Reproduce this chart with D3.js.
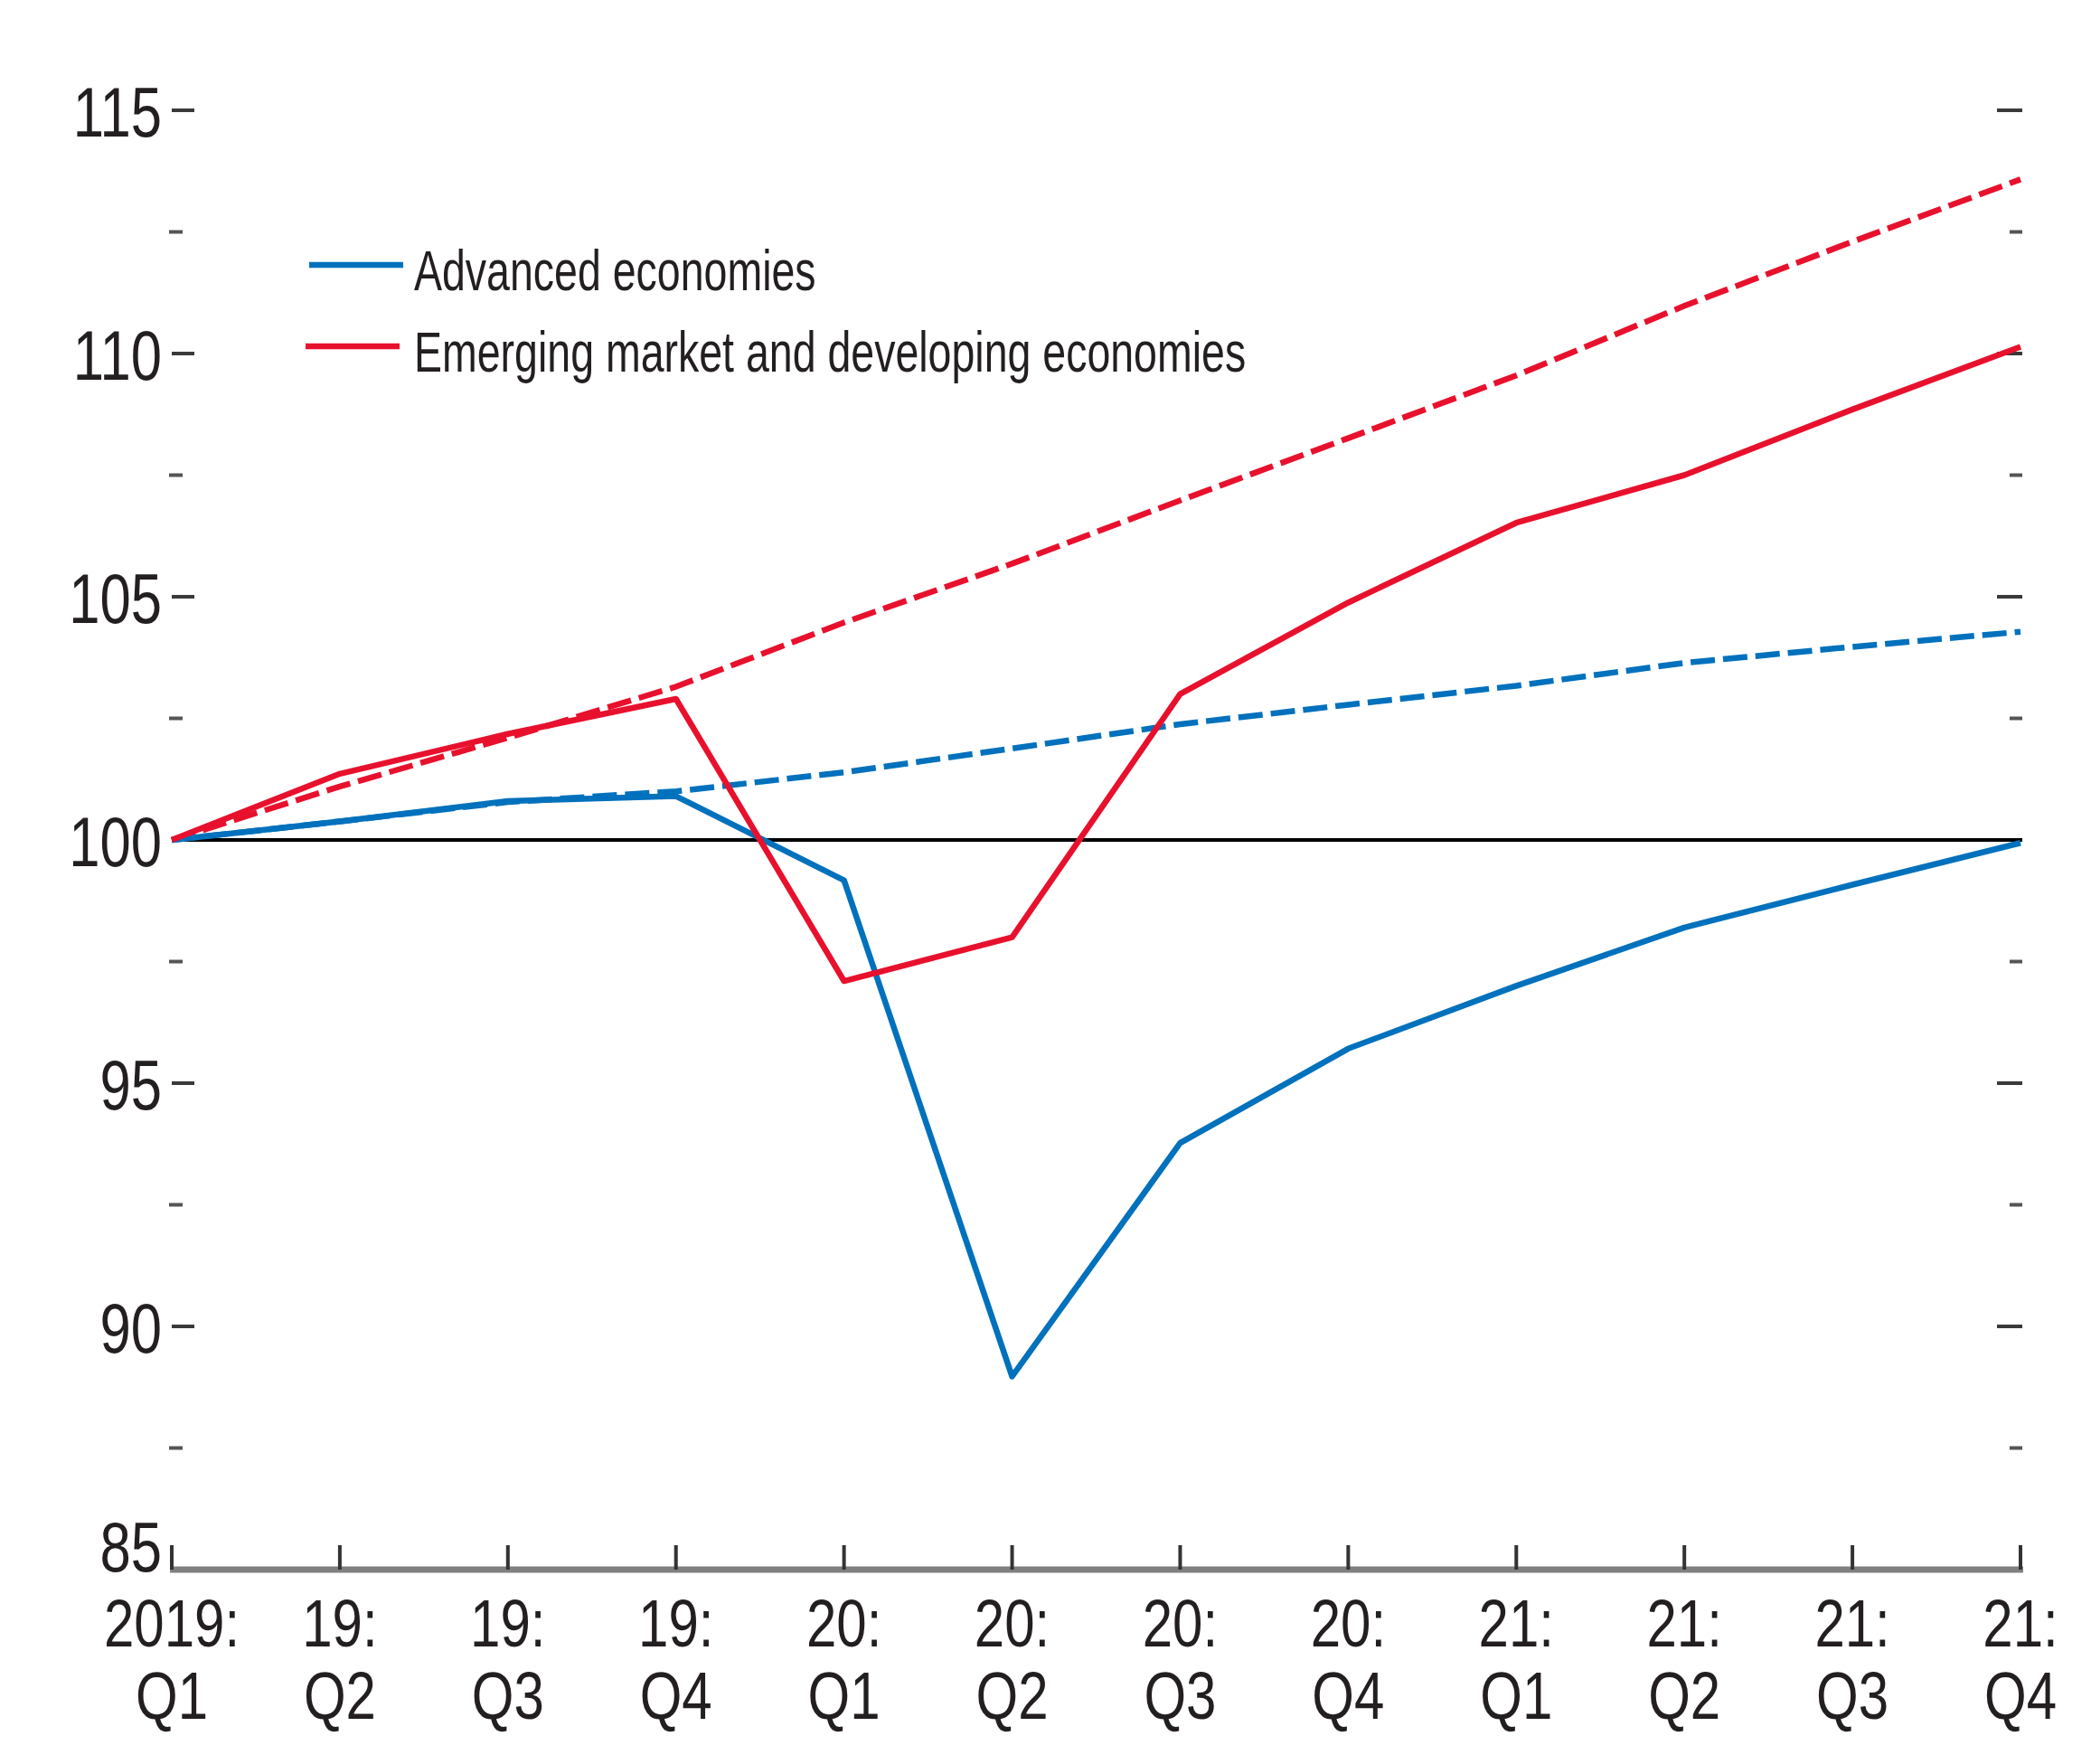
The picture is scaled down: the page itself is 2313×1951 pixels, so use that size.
<!DOCTYPE html>
<html>
<head>
<meta charset="utf-8">
<script src="https://cdn.jsdelivr.net/npm/d3@7"></script>
<style>
  html, body { margin: 0; padding: 0; background: #fff; }
  svg { display: block; }
  text { font-family: "Liberation Sans", Arial, sans-serif; fill: #231f20; }
</style>
</head>
<body>
<script>
// ---- data ----
const quarters = ["2019:|Q1","19:|Q2","19:|Q3","19:|Q4","20:|Q1","20:|Q2","20:|Q3","20:|Q4","21:|Q1","21:|Q2","21:|Q3","21:|Q4"];
const advActual  = [100, 100.38, 100.80, 100.90, 99.17, 88.97, 93.77, 95.71, 97.00, 98.20, 99.08, 99.94];
const advPre     = [100, 100.38, 100.78, 101.00, 101.39, 101.88, 102.38, 102.78, 103.17, 103.64, 103.97, 104.28];
const emdeActual = [100, 101.36, 102.18, 102.90, 97.10, 98.00, 103.00, 104.88, 106.52, 107.50, 108.85, 110.14];
const emdePre    = [100, 101.10, 102.10, 103.15, 104.47, 105.68, 106.98, 108.26, 109.55, 110.98, 112.30, 113.58];
const yMajor = [85, 90, 95, 100, 105, 110, 115];
const yMinor = [87.5, 92.5, 97.5, 102.5, 107.5, 112.5];
const legendNames = ["Advanced economies", "Emerging market and developing economies"];

const BLUE = "#0071bc", RED = "#e8112d";
const NUM_SQUEEZE = 0.80, LEG_SQUEEZE = 0.75;

const W = 2313, H = 1951;
const svg = d3.select("body").append("svg").attr("width", W).attr("height", H);
svg.append("rect").attr("width", W).attr("height", H).attr("fill", "#fff");

const x = d3.scaleLinear().domain([0, quarters.length - 1]).range([190, 2235]);
const y = d3.scaleLinear().domain([85, 115]).range([1736, 122]);

// y ticks left
const gl = svg.append("g");
gl.selectAll("line.maj").data(yMajor.filter(d => d > 85)).join("line")
  .attr("x1", 190).attr("x2", 215).attr("y1", d => y(d)).attr("y2", d => y(d))
  .attr("stroke", "#3a3a3a").attr("stroke-width", 4);
gl.selectAll("line.min").data(yMinor).join("line")
  .attr("x1", 187).attr("x2", 202).attr("y1", d => y(d)).attr("y2", d => y(d))
  .attr("stroke", "#555").attr("stroke-width", 4);
// y ticks right
gl.selectAll("line.rmaj").data(yMajor.filter(d => d > 85)).join("line")
  .attr("x1", 2209).attr("x2", 2237).attr("y1", d => y(d)).attr("y2", d => y(d))
  .attr("stroke", "#3a3a3a").attr("stroke-width", 4);
gl.selectAll("line.rmin").data(yMinor).join("line")
  .attr("x1", 2223).attr("x2", 2237).attr("y1", d => y(d)).attr("y2", d => y(d))
  .attr("stroke", "#555").attr("stroke-width", 4);
// y labels
gl.selectAll("text").data(yMajor).join("text")
  .attr("transform", d => `translate(179,${d === 85 ? y(d) + 2 : y(d) + 29}) scale(${NUM_SQUEEZE},1)`)
  .attr("text-anchor", "end").attr("font-size", 77)
  .text(d => d);

// 100 line
svg.append("line").attr("x1", 190).attr("x2", 2237).attr("y1", y(100)).attr("y2", y(100))
  .attr("stroke", "#000").attr("stroke-width", 4);

// x axis
svg.append("line").attr("x1", 188).attr("x2", 2238).attr("y1", y(85)).attr("y2", y(85))
  .attr("stroke", "#808080").attr("stroke-width", 7);
const gx = svg.append("g");
gx.selectAll("line").data(quarters).join("line")
  .attr("x1", (d, i) => x(i)).attr("x2", (d, i) => x(i))
  .attr("y1", y(85)).attr("y2", y(85) - 27)
  .attr("stroke", "#333").attr("stroke-width", 4);
const xl = gx.selectAll("text").data(quarters).join("text")
  .attr("transform", (d, i) => `translate(${x(i)},0) scale(${NUM_SQUEEZE},1)`)
  .attr("text-anchor", "middle").attr("font-size", 75);
xl.append("tspan").attr("x", 0).attr("y", 1821).text(d => d.split("|")[0]);
xl.append("tspan").attr("x", 0).attr("y", 1901).text(d => d.split("|")[1]);

// lines
const line = d3.line().x((d, i) => x(i)).y(d => y(d));
svg.append("path").datum(advPre).attr("d", line).attr("fill", "none")
  .attr("stroke", BLUE).attr("stroke-width", 6.5).attr("stroke-dasharray", "27,9");
svg.append("path").datum(emdePre).attr("d", line).attr("fill", "none")
  .attr("stroke", RED).attr("stroke-width", 6.5).attr("stroke-dasharray", "27,9");
svg.append("path").datum(advActual).attr("d", line).attr("fill", "none")
  .attr("stroke", BLUE).attr("stroke-width", 6.5).attr("stroke-linejoin", "round");
svg.append("path").datum(emdeActual).attr("d", line).attr("fill", "none")
  .attr("stroke", RED).attr("stroke-width", 6.5).attr("stroke-linejoin", "round");

// legend
const legColors = [BLUE, RED];
const lg = svg.append("g");
legendNames.forEach((name, i) => {
  const ly = 293 + i * 90;
  lg.append("line").attr("x1", 342 - i * 4).attr("x2", 446 - i * 4).attr("y1", ly).attr("y2", ly)
    .attr("stroke", legColors[i]).attr("stroke-width", 6.5);
  lg.append("text").attr("transform", `translate(458,${ly + 28}) scale(${LEG_SQUEEZE},1)`)
    .attr("font-size", 62).text(name);
});
</script>
</body>
</html>
